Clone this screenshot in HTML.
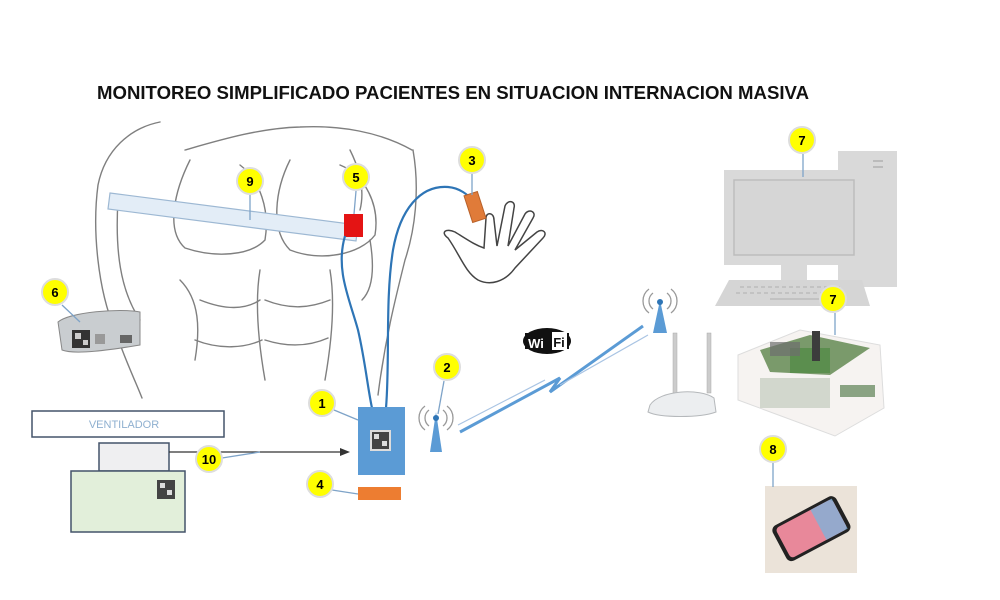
<!DOCTYPE html>
<html><head><meta charset="utf-8"><style>
html,body{margin:0;padding:0;background:#fff;}
svg{display:block;}
text{font-family:"Liberation Sans",sans-serif;}
</style></head><body>
<svg width="1000" height="600" viewBox="0 0 1000 600" xmlns="http://www.w3.org/2000/svg">
<rect width="1000" height="600" fill="#fff"/>
<text x="453" y="99" text-anchor="middle" font-size="18.5" font-weight="bold" fill="#111" textLength="712" lengthAdjust="spacingAndGlyphs">MONITOREO SIMPLIFICADO PACIENTES EN SITUACION INTERNACION MASIVA</text>

<!-- torso sketch -->
<g fill="none" stroke="#555" stroke-width="1.4" opacity="0.75" stroke-linecap="round">
<path d="M160 122 C130 128 105 150 98 185 C92 230 98 290 115 330 C125 360 135 380 142 398"/>
<path d="M185 150 C220 140 260 128 300 127 C340 125 380 132 412 150"/>
<path d="M413 150 C420 190 415 230 405 260 C395 300 385 340 378 395"/>
<path d="M118 200 C115 250 120 290 140 320"/>
<path d="M190 160 C175 190 165 230 185 248 C215 258 250 256 265 240 C270 210 260 180 240 165"/>
<path d="M290 160 C275 190 270 230 290 250 C320 262 360 255 375 235 C380 205 365 175 340 165"/>
<path d="M180 280 C200 300 200 330 195 360 M260 270 C255 300 258 340 265 380 M330 270 C335 300 332 340 325 380"/>
<path d="M200 300 C225 310 245 310 260 300 M265 300 C290 310 310 308 330 300 M195 340 C220 350 245 348 262 340 M265 340 C290 348 310 346 328 338"/>
<path d="M350 150 C360 170 365 190 360 210 M370 240 C375 270 372 290 362 300"/>
</g>

<!-- band 9 -->
<polygon points="110,193 358,225 356,241 108,209" fill="#e3edf7" stroke="#9db8d3" stroke-width="1.2"/>
<rect x="344" y="214" width="19" height="23" fill="#e41414"/>

<!-- wristband 6 -->
<g>
<path d="M58 322 C70 312 120 308 140 312 L140 345 C110 350 75 355 62 350 Z" fill="#c9cdd0" stroke="#888"/>
<rect x="72" y="330" width="18" height="18" fill="#333"/>
<rect x="75" y="333" width="6" height="6" fill="#ccc"/><rect x="83" y="340" width="5" height="5" fill="#ccc"/>
<rect x="95" y="334" width="10" height="10" fill="#999"/>
<rect x="120" y="335" width="12" height="8" fill="#666"/>
</g>

<!-- cables -->
<g fill="none" stroke="#2e75b6" stroke-width="2.2">
<path d="M345 236 C335 270 350 300 358 330 C365 360 368 390 372 408"/>
<path d="M386 408 C390 360 385 300 393 250 C400 210 420 185 448 187 C460 188 468 195 472 200"/>
</g>

<!-- hand -->
<g fill="none" stroke="#444" stroke-width="1.5">
<path d="M448 238 C440 232 446 228 455 232 C468 240 475 245 484 248 L486 218 C486 212 494 212 494 220 L497 246 L505 206 C508 199 516 201 514 208 L508 246 L525 214 C529 208 537 212 533 218 L515 250 L537 232 C543 228 548 233 543 238 L515 268 C505 282 490 286 478 280 C465 272 460 255 448 238 Z"/>
</g>
<rect x="468" y="193" width="14" height="28" fill="#e07b39" stroke="#b8612a" transform="rotate(-18 475 207)"/>

<!-- ventilator -->
<rect x="32" y="411" width="192" height="26" fill="#fff" stroke="#44546a" stroke-width="1.5"/>
<text x="124" y="428" text-anchor="middle" font-size="11" fill="#8fb0d0">VENTILADOR</text>
<rect x="99" y="443" width="70" height="28" fill="#efeff1" stroke="#44546a" stroke-width="1.5"/>
<rect x="71" y="471" width="114" height="61" fill="#e2efda" stroke="#44546a" stroke-width="1.5"/>
<rect x="157" y="480" width="18" height="19" fill="#444"/>
<rect x="160" y="483" width="5" height="5" fill="#ddd"/><rect x="167" y="490" width="5" height="5" fill="#ddd"/>
<line x1="169" y1="452" x2="344" y2="452" stroke="#333" stroke-width="1.3"/>
<polygon points="350,452 340,448 340,456" fill="#333"/>

<!-- device 1 -->
<rect x="358" y="407" width="47" height="68" fill="#5b9bd5"/>
<rect x="370" y="430" width="21" height="21" fill="#ddd"/>
<rect x="372" y="432" width="17" height="17" fill="#444"/>
<rect x="374" y="434" width="5" height="5" fill="#ddd"/><rect x="382" y="441" width="5" height="5" fill="#ddd"/>
<rect x="358" y="487" width="43" height="13" fill="#ed7d31"/>

<!-- antenna 2 -->
<polygon points="436,412 430,452 442,452" fill="#5b9bd5"/>
<circle cx="436" cy="418" r="3" fill="#2e75b6"/>
<g fill="none" stroke="#999" stroke-width="1.3">
<path d="M429 410 A10 10 0 0 0 429 426 M443 410 A10 10 0 0 1 443 426"/>
<path d="M425 406 A15 15 0 0 0 425 430 M447 406 A15 15 0 0 1 447 430"/>
</g>

<!-- lightning link -->
<g stroke="#5b9bd5" stroke-width="3" fill="none">
<path d="M460 432 L560 378 L550 392 L643 326"/>
</g>
<g stroke="#a9c4e3" stroke-width="1.2" fill="none">
<path d="M458 425 L545 380 M560 385 L648 335"/>
</g>
<!-- wifi logo -->
<g>
<ellipse cx="547" cy="341" rx="24" ry="13" fill="#111"/>
<rect x="525" y="333" width="44" height="16" fill="#111"/>
<text x="536" y="348" text-anchor="middle" font-size="13" font-weight="bold" fill="#fff">Wi</text>
<rect x="552" y="332" width="15" height="18" fill="#fff"/>
<text x="559" y="347" text-anchor="middle" font-size="13" font-weight="bold" fill="#111">Fi</text>
</g>

<!-- router antenna -->
<polygon points="660,300 653,333 667,333" fill="#5b9bd5"/>
<circle cx="660" cy="302" r="3" fill="#2e75b6"/>
<g fill="none" stroke="#999" stroke-width="1.3">
<path d="M653 293 A10 10 0 0 0 653 309 M667 293 A10 10 0 0 1 667 309"/>
<path d="M649 289 A15 15 0 0 0 649 313 M671 289 A15 15 0 0 1 671 313"/>
</g>
<!-- router -->
<rect x="673" y="333" width="4" height="60" fill="#ccc" stroke="#aaa" stroke-width="0.5"/>
<rect x="707" y="333" width="4" height="60" fill="#ccc" stroke="#aaa" stroke-width="0.5"/>
<path d="M650 405 C660 390 700 388 714 398 L716 412 C700 418 660 418 648 412 Z" fill="#eceef0" stroke="#b5b8bb"/>

<!-- computer -->
<rect x="838" y="151" width="59" height="136" fill="#d9d9d9"/>
<rect x="873" y="160" width="10" height="2" fill="#bbb"/><rect x="873" y="166" width="10" height="2" fill="#bbb"/>
<rect x="724" y="170" width="140" height="95" fill="#d9d9d9"/>
<rect x="734" y="180" width="120" height="75" fill="#d6d6d6" stroke="#bdbdbd" stroke-width="1.5"/>
<rect x="781" y="265" width="26" height="15" fill="#d9d9d9"/>
<polygon points="729,280 862,280 870,306 715,306" fill="#d5d5d5"/>
<g stroke="#bbb" stroke-width="1.5"><line x1="740" y1="287" x2="840" y2="287" stroke-dasharray="4 3"/><line x1="736" y1="293" x2="845" y2="293" stroke-dasharray="4 3"/><line x1="770" y1="299" x2="820" y2="299"/></g>

<!-- raspberry case -->
<g>
<polygon points="738,355 800,330 880,345 884,408 835,436 738,400" fill="#f6f3f1" stroke="#ddd"/>
<polygon points="760,350 810,335 870,348 830,375 770,372" fill="#7a9a6b"/>
<rect x="790" y="348" width="40" height="25" fill="#5b8e4e"/>
<rect x="770" y="342" width="30" height="14" fill="#6d6d6d" opacity="0.7"/>
<rect x="812" y="331" width="8" height="30" fill="#3c3c3c"/>
<rect x="760" y="378" width="70" height="30" fill="#c9cfc4" opacity="0.8"/>
<rect x="840" y="385" width="35" height="12" fill="#8aa383"/>
</g>

<!-- phone -->
<rect x="765" y="486" width="92" height="87" fill="#ebe3d9"/>
<g transform="rotate(-28 811 530)">
<rect x="776" y="509" width="72" height="40" rx="6" fill="#222"/>
<rect x="780" y="512" width="64" height="34" rx="4" fill="#e8889a"/>
<rect x="820" y="512" width="24" height="34" fill="#7fb2d8" opacity="0.8"/>
</g>

<!-- leader lines -->
<g stroke="#7ea3c8" stroke-width="1.3">
<line x1="250" y1="195" x2="250" y2="220"/>
<line x1="356" y1="191" x2="354" y2="214"/>
<line x1="472" y1="174" x2="472" y2="195"/>
<line x1="62" y1="305" x2="80" y2="322"/>
<line x1="334" y1="410" x2="358" y2="420"/>
<line x1="444" y1="381" x2="438" y2="414"/>
<line x1="332" y1="490" x2="358" y2="494"/>
<line x1="222" y1="458" x2="260" y2="452"/>
<line x1="803" y1="154" x2="803" y2="177"/>
<line x1="835" y1="313" x2="835" y2="335"/>
<line x1="773" y1="463" x2="773" y2="487"/>
</g>

<!-- callouts -->
<g font-size="13" font-weight="bold" text-anchor="middle">
<g><circle cx="250" cy="181" r="13" fill="#ffff00" stroke="#ddd" stroke-width="2"/><text x="250" y="186">9</text></g>
<g><circle cx="356" cy="177" r="13" fill="#ffff00" stroke="#ddd" stroke-width="2"/><text x="356" y="182">5</text></g>
<g><circle cx="472" cy="160" r="13" fill="#ffff00" stroke="#ddd" stroke-width="2"/><text x="472" y="165">3</text></g>
<g><circle cx="55" cy="292" r="13" fill="#ffff00" stroke="#ddd" stroke-width="2"/><text x="55" y="297">6</text></g>
<g><circle cx="322" cy="403" r="13" fill="#ffff00" stroke="#ddd" stroke-width="2"/><text x="322" y="408">1</text></g>
<g><circle cx="447" cy="367" r="13" fill="#ffff00" stroke="#ddd" stroke-width="2"/><text x="447" y="372">2</text></g>
<g><circle cx="320" cy="484" r="13" fill="#ffff00" stroke="#ddd" stroke-width="2"/><text x="320" y="489">4</text></g>
<g><circle cx="209" cy="459" r="13" fill="#ffff00" stroke="#ddd" stroke-width="2"/><text x="209" y="464">10</text></g>
<g><circle cx="802" cy="140" r="13" fill="#ffff00" stroke="#ddd" stroke-width="2"/><text x="802" y="145">7</text></g>
<g><circle cx="833" cy="299" r="13" fill="#ffff00" stroke="#ddd" stroke-width="2"/><text x="833" y="304">7</text></g>
<g><circle cx="773" cy="449" r="13" fill="#ffff00" stroke="#ddd" stroke-width="2"/><text x="773" y="454">8</text></g>
</g>
</svg>
</body></html>
